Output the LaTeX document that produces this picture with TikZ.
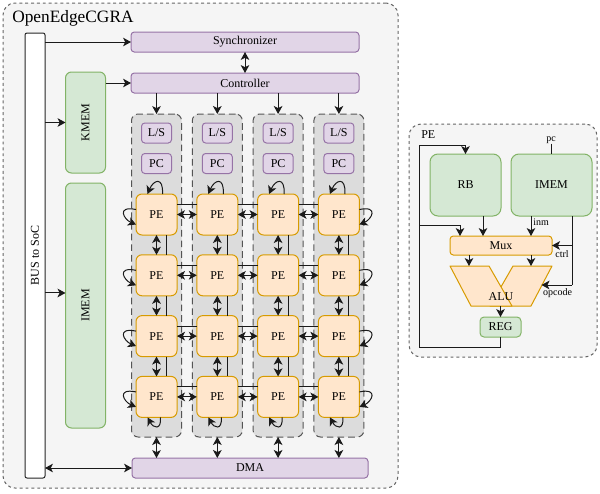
\documentclass[tikz,border=0pt]{standalone}
\usepackage{fontspec}
\setmainfont{Liberation Serif}
\usetikzlibrary{arrows.meta}

\definecolor{panelfill}{HTML}{F5F5F5}
\definecolor{panelline}{HTML}{666666}
\definecolor{purplefill}{HTML}{E1D5E7}
\definecolor{purpleline}{HTML}{9673A6}
\definecolor{greenfill}{HTML}{D5E8D4}
\definecolor{greenline}{HTML}{82B366}
\definecolor{orangefill}{HTML}{FFE6CC}
\definecolor{orangeline}{HTML}{D79B00}
\definecolor{colfill}{HTML}{DCDCDC}
\definecolor{colline}{HTML}{555555}
\definecolor{wirecol}{HTML}{1A1A1A}

\begin{document}
\begin{tikzpicture}[x=0.75pt,y=-0.75pt,
  sz/.style 2 args={minimum width=#1*0.75pt, minimum height=#2*0.75pt},
  base/.style={draw, inner sep=0pt, outer sep=0pt, line width=0.75pt,
    font=\fontsize{9}{10.8}\selectfont},
  purplebox/.style={base, fill=purplefill, draw=purpleline, rounded corners=2.5pt},
  greenbox/.style={base, fill=greenfill, draw=greenline, rounded corners=4.5pt},
  pebox/.style={base, fill=orangefill, draw=orangeline, rounded corners=4.5pt, sz={41}{41}},
  colbox/.style={base, fill=colfill, draw=colline, dash pattern=on 5pt off 3pt,
    rounded corners=5pt, sz={50}{323}},
  container/.style={base, fill=panelfill, draw=panelline,
    dash pattern=on 2.2pt off 2.2pt, rounded corners=9pt},
  lbl/.style={inner sep=0pt, font=\fontsize{9}{10.8}\selectfont},
  small/.style={inner sep=0pt, font=\fontsize{7.5}{9}\selectfont},
  tip/.tip={Stealth[length=6pt,width=6.5pt,inset=1.6pt]},
  arr/.style={-tip, line width=0.75pt, draw=wirecol},
  darr/.style={tip-tip, line width=0.75pt, draw=wirecol},
  wire/.style={line width=0.75pt, draw=wirecol},
]
\useasboundingbox (0,0) rectangle (600,493);

% ---------------- CGRA top level ----------------
\node[container, sz={395}{485}] (cgra) at (200.5,245.5) {};
\node[anchor=west, inner sep=0pt, font=\fontsize{13}{15}\selectfont] (title) at (12,18) {OpenEdgeCGRA};

\node[base, fill=white, draw=black!85, rounded corners=1.5pt, sz={20}{445}] (bus) at (35,255.5)
  {\rotatebox{90}{BUS to SoC}};

\node[purplebox, sz={228}{20}] (sync) at (245,42) {Synchronizer};
\node[purplebox, sz={228}{20}] (ctrl) at (245,83) {Controller};
\node[greenbox, sz={40}{101}] (kmem) at (85.5,122.5) {\rotatebox{90}{KMEM}};
\node[greenbox, sz={40}{245}] (imem) at (85.5,305.5) {\rotatebox{90}{IMEM}};
\node[purplebox, sz={236}{20}] (dma) at (250,468) {DMA};

% columns of processing elements
\foreach \j/\cx in {1/156.5,2/217.3,3/278.1,4/338.9} {
  \node[colbox] (col\j) at (\cx,275.5) {};
  \node[purplebox, sz={30}{20}] (ls\j) at (\cx,133) {L/S};
  \node[purplebox, sz={30}{20}] (pc\j) at (\cx,163.5) {PC};
  \foreach \i/\cy in {1/214.5,2/275.3,3/336.1,4/396.9}
    \node[pebox] (pe\i\j) at (\cx,\cy) {PE};
}

% mesh links: plain side links and bidirectional neighbour links
\foreach \i in {1,2,3,4} {
  \foreach \j/\k in {1/2,2/3,3/4} {
    \draw[wire] ([yshift=7.5pt]pe\i\j.east) -- ([yshift=7.5pt]pe\i\k.west);
    \draw[darr] (pe\i\j.east) -- (pe\i\k.west);
  }
}
\foreach \j in {1,2,3,4} {
  \foreach \i/\k in {1/2,2/3,3/4} {
    \draw[wire] ([xshift=7.5pt]pe\i\j.south) -- ([xshift=7.5pt]pe\k\j.north);
    \draw[darr] (pe\i\j.south) -- (pe\k\j.north);
  }
}

% self loops on the border PEs
\foreach \j in {1,2,3,4} {
  \draw[arr] ([xshift=4.5pt]pe1\j.north) .. controls +(1,-18) and +(6,-14) .. ([xshift=-6.75pt]pe1\j.north);
  \draw[arr] ([xshift=3pt]pe4\j.south) .. controls +(1,13) and +(6,11) .. ([xshift=-6.75pt]pe4\j.south);
}
\foreach \i in {1,2,3,4} {
  \draw[arr] ([yshift=3.75pt]pe\i1.west) .. controls +(-20,-4) and +(-12,-5) .. ([yshift=-7.5pt]pe\i1.west);
  \draw[arr] ([yshift=3.75pt]pe\i4.east) .. controls +(20,-4) and +(12,-5) .. ([yshift=-7.5pt]pe\i4.east);
}

% controller and DMA links
\foreach \j in {1,2,3,4} {
  \draw[arr] (ctrl.south -| col\j.north) -- (col\j.north);
  \draw[darr] (col\j.south) -- (col\j.south |- dma.north);
}
\draw[darr] (sync.south) -- (ctrl.north);

% bus links
\coordinate (imemin) at ([yshift=9.4pt]imem.west);
\draw[arr] (bus.east |- sync.west) -- (sync.west);
\draw[arr] (bus.east |- kmem.west) -- (kmem.west);
\draw[arr] (bus.east |- imemin) -- (imemin);
\draw[arr] (kmem.east |- ctrl.west) -- (ctrl.west);
\draw[darr] (bus.east |- dma.west) -- (dma.west);

% ---------------- PE detail ----------------
\node[container, sz={188}{233}] (pepanel) at (503,240.5) {};
\node[lbl, anchor=west] (petitle) at (421,135) {PE};

\node[greenbox, rounded corners=6pt, sz={71}{62}] (rb) at (465.5,185) {RB};
\node[greenbox, rounded corners=6pt, sz={81}{62}] (imem2) at (551.5,185) {IMEM};
\node[small] (pclabel) at (551,140) {pc};
\draw[wire] (pclabel.south) -- (pclabel.south |- imem2.north);

\node[base, fill=orangefill, draw=orangeline, rounded corners=2.5pt, sz={102}{19}] (mux) at (501,245.5) {Mux};

% ALU outline (two slanted halves)
\filldraw[fill=orangefill, draw=orangeline, line width=0.75pt, line join=round]
  (513,266) -- (552,266) -- (531,306) -- (490,306) -- cycle;
\filldraw[fill=orangefill, draw=orangeline, line width=0.75pt, line join=round]
  (450,266) -- (489,266) -- (512,306) -- (471,306) -- cycle;
\node[lbl] (alu) at (501,297) {ALU};
\coordinate (aluinl) at (469,266);
\coordinate (aluinr) at (531,266);
\coordinate (aluout) at (500.5,306);
\coordinate (aluop) at (541.5,285);

\node[greenbox, rounded corners=3pt, sz={41}{20}] (reg) at (500.5,327) {REG};

% datapath wiring
\coordinate (fbl) at (419,347);
\coordinate (fbt) at (419,145);
\coordinate (fbm) at (419,225);
\coordinate (muxa) at (460,236);
\coordinate (rbo) at (483,216);
\coordinate (imo) at (531,216);
\coordinate (ctl) at (572,216);

\draw[arr] (reg.south) |- (fbl) -- (fbt) -| (rb.north);
\draw[arr] (fbm) -| (muxa);
\draw[arr] (rbo) -- (rbo |- mux.north);
\draw[arr] (imo) -- (imo |- mux.north);
\node[small, anchor=west] (inmlabel) at (533,222) {inm};
\draw[wire] (ctl) -- (ctl |- aluop);
\draw[arr] (ctl |- mux.east) -- (mux.east);
\draw[arr] (ctl |- aluop) -- (aluop);
\node[small] (ctrllabel) at (562,254) {ctrl};
\node[small] (oplabel) at (557.5,293) {opcode};

\draw[arr] (mux.south -| aluinl) -- (aluinl);
\draw[arr] (mux.south -| aluinr) -- (aluinr);
\draw[arr] (aluout) -- (reg.north);
\end{tikzpicture}
\end{document}
